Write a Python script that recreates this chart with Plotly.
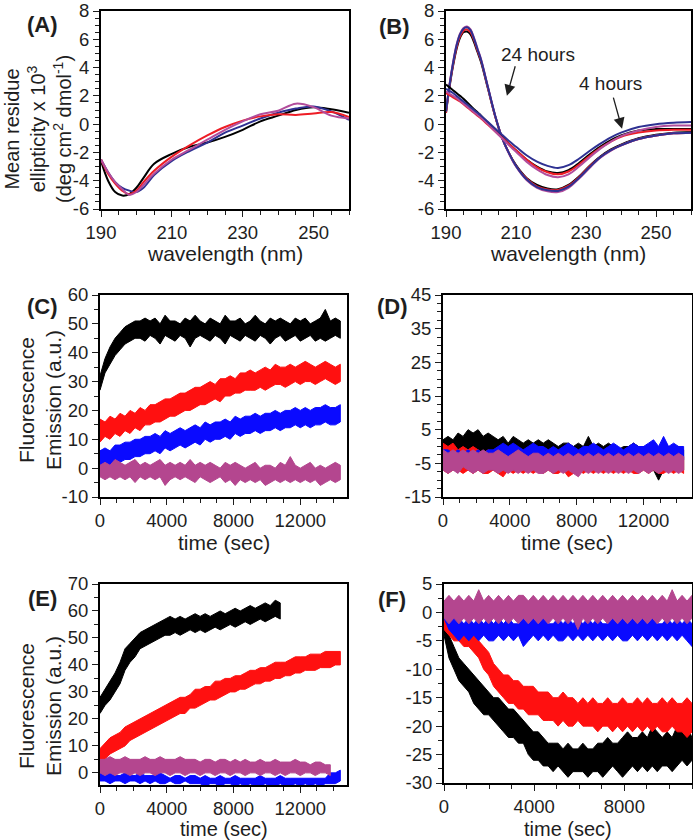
import plotly.graph_objects as go

# ---------------- DATA ----------------
# Panel A: CD spectra (x10^3 deg cm2 dmol-1)
A_wl = [190, 192, 194, 196, 198, 200, 202, 205, 210, 215, 220, 225, 230, 235, 240, 245, 250, 255, 260]
A_black = [-2.6, -4.0, -4.8, -5.05, -4.95, -4.5, -3.8, -2.8, -2.1, -1.6, -1.3, -0.9, -0.4, 0.2, 0.6, 1.0, 1.2, 1.05, 0.8]
A_blue = [-2.5, -3.4, -4.1, -4.5, -4.7, -4.8, -4.5, -3.6, -2.6, -1.9, -1.3, -0.6, -0.1, 0.4, 0.8, 1.1, 1.25, 0.9, 0.3]
A_red = [-2.5, -3.5, -4.2, -4.7, -4.95, -4.7, -4.1, -3.3, -2.3, -1.5, -0.8, -0.2, 0.25, 0.55, 0.7, 0.65, 0.75, 0.85, 0.5]
A_magenta = [-2.5, -3.4, -4.1, -4.6, -5.0, -4.8, -4.3, -3.5, -2.5, -1.8, -1.1, -0.4, 0.2, 0.7, 0.95, 1.45, 1.2, 0.6, 0.4]

# Panel B: CD spectra, 4 hours (lower group) and 24 hours (peaked group)
B_wl = [190, 191, 192, 193, 194, 195, 196, 197, 198, 199, 200, 202, 204, 206, 208, 210,
        213, 216, 219, 222, 225, 228, 231, 234, 237, 240, 245, 250, 255, 260]
B4_black = [2.8, 2.6, 2.4, 2.2, 2.0, 1.8, 1.55, 1.3, 1.05, 0.85, 0.6, 0.1, -0.4, -0.9, -1.4, -1.85,
            -2.5, -3.0, -3.35, -3.45, -3.25, -2.75, -2.15, -1.6, -1.15, -0.8, -0.45, -0.35, -0.35, -0.35]
B4_red = [2.2, 2.05, 1.9, 1.75, 1.6, 1.4, 1.2, 1.0, 0.8, 0.6, 0.4, -0.05, -0.5, -0.95, -1.4, -1.85,
          -2.5, -3.05, -3.4, -3.55, -3.35, -2.85, -2.25, -1.7, -1.25, -0.9, -0.6, -0.45, -0.4, -0.4]
B4_magenta = [2.3, 2.15, 2.0, 1.85, 1.65, 1.45, 1.25, 1.05, 0.85, 0.65, 0.45, 0.0, -0.5, -1.0, -1.5, -1.95,
              -2.65, -3.2, -3.6, -3.75, -3.55, -3.0, -2.35, -1.75, -1.25, -0.85, -0.45, -0.2, -0.1, -0.1]
B4_blue = [2.5, 2.35, 2.2, 2.0, 1.8, 1.6, 1.4, 1.2, 1.0, 0.8, 0.6, 0.15, -0.3, -0.75, -1.2, -1.6,
           -2.2, -2.65, -2.95, -3.1, -2.9, -2.45, -1.9, -1.4, -0.95, -0.6, -0.2, 0.0, 0.1, 0.15]
B24_black = [0.8, 2.6, 4.1, 5.3, 6.1, 6.5, 6.55, 6.35, 5.8, 5.1, 4.4, 2.5, 0.6, -0.95, -2.05, -2.9,
             -3.8, -4.3, -4.55, -4.6, -4.3, -3.7, -2.95, -2.3, -1.8, -1.45, -1.0, -0.75, -0.6, -0.55]
B24_red = [0.8, 2.7, 4.2, 5.4, 6.2, 6.6, 6.7, 6.5, 5.95, 5.2, 4.5, 2.55, 0.6, -0.95, -2.05, -2.95,
           -3.85, -4.4, -4.62, -4.65, -4.35, -3.75, -3.0, -2.35, -1.85, -1.5, -1.05, -0.8, -0.65, -0.6]
B24_magenta = [0.9, 2.8, 4.35, 5.6, 6.4, 6.8, 6.9, 6.7, 6.1, 5.35, 4.6, 2.6, 0.65, -0.95, -2.1, -3.0,
               -3.95, -4.5, -4.75, -4.8, -4.5, -3.85, -3.1, -2.4, -1.9, -1.5, -1.05, -0.8, -0.65, -0.6]
B24_blue = [0.9, 2.75, 4.3, 5.55, 6.35, 6.75, 6.85, 6.65, 6.05, 5.3, 4.55, 2.6, 0.65, -0.95, -2.05, -2.95,
            -3.9, -4.45, -4.68, -4.72, -4.42, -3.8, -3.05, -2.35, -1.85, -1.5, -1.05, -0.8, -0.65, -0.6]

# Fluorescence traces: upper / lower edge of each noisy trace, sampled every *_step seconds
C_step = 300
C_black_hi = [32, 38, 42, 45, 47, 49, 50, 51, 51, 52,
              51, 52, 50, 53, 51, 51, 50, 52, 51, 53,
              51, 50, 52, 51, 50, 53, 51, 51, 52, 50,
              51, 53, 51, 50, 52, 51, 52, 51, 50, 52,
              51, 52, 50, 51, 52, 55, 51, 52, 51]
C_black_lo = [27, 33, 36, 39, 41, 43, 44, 45, 45, 44,
              46, 45, 43, 46, 45, 44, 46, 45, 42, 45,
              46, 45, 44, 46, 45, 43, 46, 45, 44, 46,
              45, 44, 46, 45, 43, 45, 46, 44, 45, 46,
              44, 45, 46, 44, 45, 44, 45, 46, 45]
C_red_hi = [17, 16, 18, 17, 19, 18, 20, 19, 21, 20,
            22, 22, 23, 24, 24, 25, 26, 26, 27, 28,
            28, 29, 30, 29, 31, 31, 32, 31, 33, 33,
            34, 33, 34, 35, 34, 36, 35, 35, 36, 35,
            36, 37, 36, 35, 36, 37, 36, 35, 36]
C_red_lo = [9, 11, 10, 12, 11, 13, 12, 14, 13, 15,
            15, 16, 16, 17, 18, 18, 19, 20, 20, 21,
            22, 22, 23, 24, 23, 25, 25, 26, 26, 27,
            27, 27, 28, 27, 28, 29, 29, 28, 29, 30,
            29, 30, 30, 29, 30, 31, 30, 29, 30]
C_blue_hi = [6, 7, 6, 8, 8, 9, 9, 10, 10, 11,
             11, 12, 11, 13, 12, 13, 14, 13, 14, 15,
             14, 16, 15, 16, 16, 17, 16, 18, 17, 18,
             18, 19, 18, 19, 19, 20, 19, 20, 20, 21,
             20, 21, 20, 21, 21, 22, 21, 21, 22]
C_blue_lo = [0, 1, 1, 2, 2, 3, 3, 4, 4, 5,
             5, 6, 5, 7, 6, 7, 8, 7, 8, 9,
             8, 10, 9, 10, 10, 11, 10, 12, 11, 12,
             12, 13, 12, 13, 13, 14, 13, 14, 14, 15,
             14, 15, 14, 15, 15, 16, 15, 15, 16]
C_magenta_hi = [1, 2, 1, 3, 2, 1, 2, 3, 1, 2,
                1, 2, 3, 1, 2, 1, 2, 1, 3, 1,
                2, 1, 2, 1, 0, 2, 1, 2, 1, 0,
                1, 2, 0, 1, 1, 0, 2, 1, 4, 1,
                0, 1, 2, 0, 1, 0, 1, 2, 1]
C_magenta_lo = [-3, -4, -3, -4, -3, -4, -3, -5, -3, -4,
                -3, -4, -3, -6, -4, -3, -4, -3, -4, -5,
                -3, -4, -5, -4, -3, -5, -4, -6, -4, -5,
                -4, -5, -4, -6, -5, -4, -5, -4, -5, -4,
                -5, -4, -5, -4, -6, -5, -4, -5, -4]

D_step = 300
D_black_hi = [2, 3, 2, 4, 3, 5, 4, 5, 3, 4,
              3, 2, 3, 1, 3, 2, 1, 2, 1, 2,
              1, 2, 1, 0, 1, 1, 0, 1, 0, 3,
              0, 1, 0, 1, 0, -1, 0, 0, 1, 0,
              0, -1, 0, -1, 0, 0, -1, 0, -1]
D_black_lo = [-3, -2, -2, -1, -2, -1, -2, -1, -2, -2,
              -3, -3, -4, -3, -4, -4, -5, -4, -5, -5,
              -5, -6, -5, -6, -5, -6, -7, -6, -5, -6,
              -6, -7, -6, -7, -6, -7, -6, -7, -6, -7,
              -6, -7, -7, -10, -7, -6, -7, -6, -7]
D_red_hi = [1, 0, 1, -1, 0, -1, 0, -1, -2, -1,
            -2, -1, -2, -3, -2, -3, -2, -3, -2, -3,
            -2, -3, -3, -2, -3, -2, -3, -2, -3, -2,
            -3, -2, -3, -2, -3, -2, -3, -2, -3, -2,
            -3, -2, -3, -2, -3, -2, -3, -2, -3]
D_red_lo = [-7, -8, -7, -7, -8, -7, -8, -7, -8, -8,
            -7, -8, -9, -7, -8, -7, -8, -7, -8, -7,
            -8, -7, -8, -8, -7, -9, -8, -7, -8, -7,
            -8, -7, -8, -7, -8, -7, -8, -7, -8, -8,
            -7, -8, -7, -8, -8, -7, -8, -7, -8]
D_blue_hi = [-1, -1, -2, -1, -2, -1, -2, -1, -2, -1,
             -1, 0, 1, 0, 1, 0, -1, 0, 1, 0,
             0, -1, 0, -1, 0, 1, 0, -1, 0, 0,
             1, 0, -1, 0, 1, 0, -1, 0, 1, 0,
             0, 1, 2, 0, 3, 0, 1, 0, 0]
D_blue_lo = [-5, -6, -5, -6, -5, -6, -5, -6, -5, -6,
             -4, -5, -4, -5, -4, -5, -4, -5, -4, -5,
             -4, -3, -4, -5, -4, -3, -4, -5, -4, -3,
             -4, -5, -4, -3, -4, -5, -4, -3, -4, -5,
             -4, -3, -4, -5, -4, -3, -4, -3, -4]
D_magenta_hi = [-1, -2, -1, -2, -1, -2, -1, -2, -1, -2,
                -2, -1, -2, -3, -2, -1, -2, -3, -2, -2,
                -3, -2, -3, -2, -3, -2, -3, -2, -3, -2,
                -3, -2, -3, -2, -3, -2, -3, -2, -3, -2,
                -3, -2, -3, -2, -3, -2, -3, -2, -3]
D_magenta_lo = [-7, -8, -7, -8, -6, -7, -8, -7, -8, -7,
                -7, -8, -7, -8, -7, -8, -7, -8, -7, -8,
                -8, -7, -8, -7, -8, -7, -8, -9, -7, -8,
                -7, -8, -7, -8, -7, -8, -7, -8, -7, -8,
                -7, -8, -7, -8, -7, -8, -7, -8, -7]

E_step = 300
E_black_hi = [28, 31, 34, 37, 41, 46, 48, 50, 52, 53,
              54, 55, 56, 57, 58, 57, 58, 57, 58, 59,
              58, 59, 58, 59, 60, 59, 60, 61, 60, 61,
              62, 61, 62, 63, 62, 64, 63]
E_black_lo = [22, 25, 27, 30, 33, 38, 41, 43, 46, 47,
              48, 49, 50, 51, 51, 52, 51, 52, 53, 52,
              53, 52, 53, 54, 53, 54, 55, 54, 55, 56,
              55, 56, 57, 56, 57, 58, 57]
E_red_hi = [9, 11, 13, 14, 15, 17, 18, 19, 20, 21,
            22, 23, 24, 25, 26, 27, 28, 28, 29, 31,
            31, 32, 32, 34, 34, 35, 35, 36, 36, 37,
            38, 38, 39, 39, 40, 41, 41, 41, 42, 43,
            43, 43, 44, 44, 44, 45, 45, 45, 45]
E_red_lo = [2, 5, 7, 8, 9, 10, 12, 13, 14, 15,
            16, 17, 18, 19, 20, 21, 22, 22, 24, 24,
            25, 26, 27, 27, 28, 29, 30, 30, 31, 31,
            32, 33, 33, 34, 34, 35, 35, 36, 36, 37,
            37, 38, 38, 38, 39, 39, 39, 40, 40]
E_magenta_hi = [5, 5, 6, 5, 5, 6, 5, 5, 5, 6,
                5, 5, 6, 5, 5, 5, 6, 5, 5, 5,
                4, 5, 5, 4, 5, 5, 4, 5, 4, 5,
                4, 4, 5, 4, 4, 5, 4, 4, 4, 5,
                4, 4, 3, 4, 4, 3, 3]
E_magenta_lo = [0, -1, 0, -1, 0, 0, -1, 0, -1, 0,
                0, -1, 0, 0, -1, 0, 0, -1, 0, 0,
                -1, 0, 0, -1, 0, 0, -1, 0, 0, -1,
                0, 0, -1, 0, 0, -1, 0, -1, 0, 0,
                -1, 0, 0, -1, 0, 0, -1]
E_blue_hi = [0, -1, 0, -1, -1, 0, -1, -1, 0, -1,
             -1, -1, 0, -1, -2, -1, -1, -2, -1, -1,
             -2, -1, -2, -2, -1, -2, -2, -1, -2, -2,
             -2, -2, -1, -2, -2, -2, -1, -2, -2, -2,
             -2, -2, -2, -2, -2, -2, 0, 0, 1]
E_blue_lo = [-3, -3, -4, -3, -3, -4, -3, -3, -4, -3,
             -4, -3, -4, -4, -3, -4, -4, -3, -4, -4,
             -4, -5, -4, -4, -5, -4, -4, -5, -4, -5,
             -4, -5, -5, -4, -5, -5, -4, -5, -5, -4,
             -5, -4, -5, -4, -5, -4, -4, -4, -3]

F_step = 220
F_black_hi = [-1, -4, -6, -8, -9, -10, -11, -12, -13, -14,
              -15, -15, -16, -17, -17, -18, -19, -20, -21, -21,
              -22, -23, -23, -23, -24, -23, -24, -24, -23, -24,
              -24, -23, -23, -22, -23, -23, -22, -21, -22, -22,
              -21, -22, -20, -21, -22, -21, -22, -20, -21, -20,
              -22]
F_black_lo = [-4, -8, -10, -12, -13, -14, -16, -17, -18, -18,
              -19, -20, -21, -22, -22, -23, -23, -25, -26, -26,
              -27, -27, -28, -27, -28, -29, -28, -28, -28, -29,
              -28, -28, -29, -28, -27, -28, -29, -28, -27, -28,
              -27, -28, -27, -28, -27, -27, -28, -27, -26, -27,
              -26]
F_red_hi = [0, -1, -1, -2, -2, -3, -3, -5, -6, -7,
            -9, -10, -11, -11, -12, -12, -13, -13, -13, -14,
            -14, -14, -15, -15, -14, -15, -15, -16, -15, -16,
            -15, -16, -16, -15, -16, -16, -15, -16, -16, -15,
            -16, -15, -16, -16, -15, -16, -15, -16, -16, -15,
            -16]
F_red_lo = [-3, -4, -5, -5, -6, -6, -7, -8, -10, -11,
            -13, -14, -15, -16, -16, -17, -17, -18, -18, -18,
            -19, -19, -19, -20, -19, -20, -20, -19, -20, -20,
            -20, -21, -20, -20, -21, -20, -21, -20, -21, -20,
            -21, -20, -21, -20, -21, -21, -20, -21, -21, -22,
            -21]
F_blue_hi = [2, 0, -1, -1, -2, -1, -2, -1, -2, -1,
             -2, -1, -2, -1, -2, -2, -1, -2, -1, -2,
             -1, -2, -2, -1, -2, -1, -2, -1, -2, -1,
             -2, -1, -2, -2, -1, -2, -1, -2, -1, -2,
             -1, -2, -1, -2, -2, -1, -2, -1, -2, -1,
             -2]
F_blue_lo = [-1, -3, -4, -5, -4, -5, -4, -5, -4, -5,
             -5, -4, -5, -4, -5, -4, -6, -5, -4, -5,
             -4, -5, -4, -5, -5, -4, -5, -4, -5, -4,
             -5, -4, -5, -4, -5, -4, -5, -5, -4, -5,
             -4, -5, -4, -5, -4, -5, -4, -5, -4, -5,
             -6]
F_magenta_hi = [2, 3, 2, 3, 2, 3, 2, 4, 2, 3,
                2, 3, 2, 3, 2, 3, 3, 2, 3, 2,
                3, 2, 3, 2, 3, 2, 3, 2, 3, 2,
                3, 2, 3, 2, 3, 2, 3, 2, 3, 2,
                3, 2, 3, 2, 3, 2, 4, 2, 3, 2,
                3]
F_magenta_lo = [-1, -2, -1, -2, -1, -2, -1, -2, -1, -2,
                -1, -2, -1, -2, -1, -2, -1, -2, -1, -2,
                -1, -2, -1, -2, -1, -2, -1, -3, -1, -2,
                -1, -2, -1, -2, -1, -2, -1, -2, -1, -2,
                -1, -2, -1, -2, -1, -2, -1, -2, -1, -2,
                -1]

# ---------------- STYLE ----------------
FONT = "Liberation Sans, Arial, Helvetica, sans-serif"
TXT = "#1e1e1e"
BLACK = "#000000"
RED_CD = "#ee1c25"
BLUE_CD = "#2e3192"
MAG_CD = "#b24d9c"
RED = "#ff1010"
BLUE = "#0a0aff"
MAG = "#b4468f"

W, H = 693, 840
boxes = {  # left, right, top, bottom (px)
    "A": (101, 349, 11, 209),
    "B": (446, 691, 11, 209),
    "C": (100, 347, 295, 497),
    "D": (443, 692, 295, 497),
    "E": (100, 347, 584, 785),
    "F": (444, 692, 584, 783),
}

fig = go.Figure()


def refs(axn):
    return ("x" if axn == 1 else f"x{axn}"), ("y" if axn == 1 else f"y{axn}")


def add_line(x, y, color, axn, width=2.0):
    xr, yr = refs(axn)
    fig.add_trace(go.Scatter(x=x, y=y, mode="lines",
                             line=dict(color=color, width=width, shape="spline", smoothing=1.0),
                             xaxis=xr, yaxis=yr, hoverinfo="skip", showlegend=False))


def add_band(hi, lo, step, color, axn):
    xr, yr = refs(axn)
    n = min(len(hi), len(lo))
    t = [i * step for i in range(n)]
    fig.add_trace(go.Scatter(x=t + t[::-1], y=list(hi[:n]) + list(lo[:n])[::-1], mode="lines",
                             fill="toself", fillcolor=color,
                             line=dict(color=color, width=1.0),
                             xaxis=xr, yaxis=yr, hoverinfo="skip", showlegend=False))


for ys, c in [(A_black, BLACK), (A_blue, BLUE_CD), (A_red, RED_CD), (A_magenta, MAG_CD)]:
    add_line(A_wl, ys, c, 1)

for ys, c in [(B24_black, BLACK), (B24_red, RED_CD), (B24_magenta, MAG_CD), (B24_blue, BLUE_CD),
              (B4_black, BLACK), (B4_red, RED_CD), (B4_magenta, MAG_CD), (B4_blue, BLUE_CD)]:
    add_line(B_wl, ys, c, 2)

for hi, lo, c in [(C_black_hi, C_black_lo, BLACK), (C_red_hi, C_red_lo, RED),
                  (C_blue_hi, C_blue_lo, BLUE), (C_magenta_hi, C_magenta_lo, MAG)]:
    add_band(hi, lo, C_step, c, 3)

for hi, lo, c in [(D_black_hi, D_black_lo, BLACK), (D_red_hi, D_red_lo, RED),
                  (D_blue_hi, D_blue_lo, BLUE), (D_magenta_hi, D_magenta_lo, MAG)]:
    add_band(hi, lo, D_step, c, 4)

for hi, lo, c in [(E_black_hi, E_black_lo, BLACK), (E_red_hi, E_red_lo, RED),
                  (E_blue_hi, E_blue_lo, BLUE), (E_magenta_hi, E_magenta_lo, MAG)]:
    add_band(hi, lo, E_step, c, 5)

for hi, lo, c in [(F_black_hi, F_black_lo, BLACK), (F_red_hi, F_red_lo, RED),
                  (F_blue_hi, F_blue_lo, BLUE), (F_magenta_hi, F_magenta_lo, MAG)]:
    add_band(hi, lo, F_step, c, 6)


def axis(dom, rng, tickvals, minor_dtick, minor_tick0, anchor):
    return dict(domain=dom, range=rng, tickvals=tickvals, ticktext=[str(v) for v in tickvals],
                ticks="outside", ticklen=6, tickwidth=1.4, ticklabeloverflow="allow",
                tickcolor=TXT, showline=True, linecolor="black", linewidth=2, mirror=True,
                showgrid=False, zeroline=False, tickfont=dict(family=FONT, size=18.5, color=TXT),
                anchor=anchor, fixedrange=True,
                minor=dict(ticks="outside", ticklen=4, tickwidth=1.2, tickcolor=TXT,
                           dtick=minor_dtick, tick0=minor_tick0, showgrid=False))


specs = {
    "A": dict(xr=[190, 260], xt=[190, 210, 230, 250], xm=5, yr=[-6, 8], yt=[-6, -4, -2, 0, 2, 4, 6, 8], ym=0.5, y0=-6),
    "B": dict(xr=[190, 260], xt=[190, 210, 230, 250], xm=5, yr=[-6, 8], yt=[-6, -4, -2, 0, 2, 4, 6, 8], ym=0.5, y0=-6),
    "C": dict(xr=[0, 14800], xt=[0, 4000, 8000, 12000], xm=1000, yr=[-10, 60], yt=[-10, 0, 10, 20, 30, 40, 50, 60], ym=5, y0=-10),
    "D": dict(xr=[0, 14900], xt=[0, 4000, 8000, 12000], xm=1000, yr=[-15, 45], yt=[-15, -5, 5, 15, 25, 35, 45], ym=2.5, y0=-15),
    "E": dict(xr=[0, 14800], xt=[0, 4000, 8000, 12000], xm=1000, yr=[-4.5, 70], yt=[0, 10, 20, 30, 40, 50, 60, 70], ym=5, y0=0),
    "F": dict(xr=[0, 11000], xt=[0, 4000, 8000], xm=1000, yr=[-30, 5], yt=[-30, -25, -20, -15, -10, -5, 0, 5], ym=2.5, y0=-30),
}

layout = dict(width=W, height=H, margin=dict(l=0, r=0, t=0, b=0, autoexpand=False),
              plot_bgcolor="white", paper_bgcolor="white", showlegend=False)
for i, key in enumerate("ABCDEF", start=1):
    l, r, t, b = boxes[key]
    s = specs[key]
    xd = [l / W, r / W]
    yd = [1 - b / H, 1 - t / H]
    xn = "xaxis" if i == 1 else f"xaxis{i}"
    yn = "yaxis" if i == 1 else f"yaxis{i}"
    xa, ya = refs(i)
    layout[xn] = axis(xd, s["xr"], s["xt"], s["xm"], s["xr"][0], ya)
    layout[yn] = axis(yd, s["yr"], s["yt"], s["ym"], s["y0"], xa)

fig.update_layout(**layout)

ann = []


def txt(x, y, text, size=21, bold=False, angle=0):
    ann.append(dict(x=x / W, y=1 - y / H, xref="paper", yref="paper",
                    text=f"<b>{text}</b>" if bold else text,
                    showarrow=False, textangle=angle, xanchor="center", yanchor="middle",
                    font=dict(family=FONT, size=size, color=TXT)))


# panel letters
txt(42, 24, "(A)", 22, True)
txt(394, 26, "(B)", 22, True)
txt(42, 306, "(C)", 22, True)
txt(392, 306, "(D)", 22, True)
txt(42, 598, "(E)", 22, True)
txt(392, 599, "(F)", 22, True)

# x titles
txt(225, 253, "wavelength (nm)")
txt(568, 253, "wavelength (nm)")
txt(224, 542, "time (sec)")
txt(567, 542, "time (sec)")
txt(224, 828.5, "time (sec)", 20)
txt(568, 828.5, "time (sec)", 20)

# y titles
txt(38, 129, "Mean residue<br>ellipticity x 10<sup>3</sup><br>(deg cm<sup>2</sup> dmol<sup>-1</sup>)", 20, angle=-90)
txt(40, 400, "Fluorescence<br>Emission (a.u.)", 21, angle=-90)
txt(40, 706, "Fluorescence<br>Emission (a.u.)", 21, angle=-90)

# panel B arrows and labels
ann.append(dict(x=216.3, y=4.92, xref="x2", yref="y2", text="24 hours", showarrow=False,
                font=dict(family=FONT, size=19, color=TXT)))
ann.append(dict(x=237.1, y=2.89, xref="x2", yref="y2", text="4 hours", showarrow=False,
                font=dict(family=FONT, size=19, color=TXT)))
ann.append(dict(x=207.4, y=2.0, ax=209.9, ay=4.2, xref="x2", yref="y2", axref="x2", ayref="y2",
                text="", showarrow=True, arrowhead=2, arrowsize=1.7, arrowwidth=1.3, arrowcolor=TXT))
ann.append(dict(x=240.3, y=-0.33, ax=237.7, ay=1.98, xref="x2", yref="y2", axref="x2", ayref="y2",
                text="", showarrow=True, arrowhead=2, arrowsize=1.7, arrowwidth=1.3, arrowcolor=TXT))

fig.update_layout(annotations=ann)
fig.write_html("out.html", config={"displayModeBar": False},
               post_script="document.body.style.margin='0px';document.body.style.overflow='hidden';")
